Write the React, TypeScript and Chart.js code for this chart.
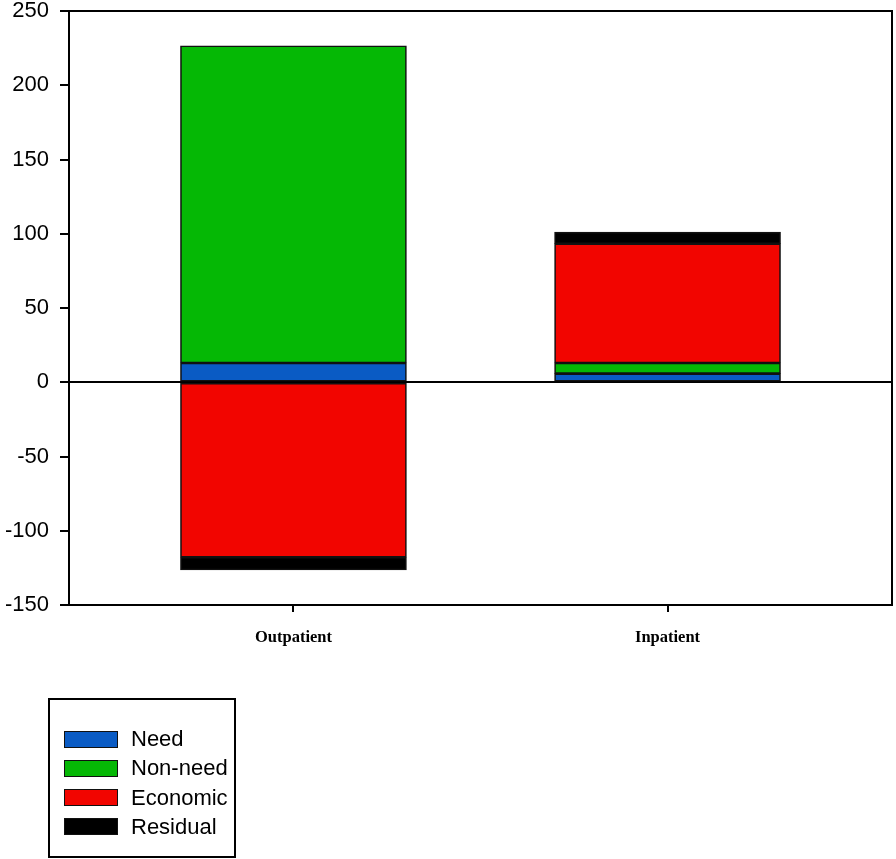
import React, { useEffect, useRef } from "react";
import { Chart, registerables } from "chart.js";

Chart.register(...registerables);

const categories = ["Outpatient", "Inpatient"];
const seriesNames = ["Need", "Non-need", "Economic", "Residual"];
const needValues = [13.0, 5.8];
const nonNeedValues = [213.6, 7.2];
const economicValues = [-117.8, 80.3];
const residualValues = [-8.6, 7.8];
const seriesColors = ["#0a5bc4", "#05b805", "#f20500", "#000000"];
const yMin = -150;
const yMax = 250;
const yStep = 50;

const allValues = [needValues, nonNeedValues, economicValues, residualValues];

const framePlugin = {
  id: "frame",
  afterDraw(chart: any) {
    const { ctx, chartArea } = chart;
    ctx.save();
    ctx.strokeStyle = "#000";
    ctx.lineWidth = 2;
    ctx.beginPath();
    ctx.moveTo(chartArea.left, chartArea.top);
    ctx.lineTo(chartArea.right, chartArea.top);
    ctx.lineTo(chartArea.right, chartArea.bottom);
    ctx.stroke();
    ctx.restore();
  },
};

export default function App() {
  const ref = useRef<HTMLCanvasElement>(null);
  useEffect(() => {
    if (!ref.current) return;
    const chart = new Chart(ref.current, {
      type: "bar",
      data: {
        datasets: seriesNames.map((name, s) => ({
          label: name,
          data: categories.map((_, i) => ({ x: i, y: allValues[s][i] })),
          backgroundColor: seriesColors[s],
          borderColor: "#111",
          borderWidth: 1.6,
          borderSkipped: false,
          barThickness: 226,
        })),
      },
      options: {
        animation: false,
        responsive: true,
        maintainAspectRatio: false,
        layout: { padding: { top: 11, right: 4, left: 0, bottom: 0 } },
        plugins: { legend: { display: false }, tooltip: { enabled: false } },
        scales: {
          x: {
            type: "linear",
            stacked: true,
            offset: false,
            min: -0.6,
            max: 1.6,
            afterBuildTicks: (scale: any) => {
              scale.ticks = categories.map((_, i) => ({ value: i }));
            },
            afterFit: (scale: any) => {
              scale.height = 254;
              scale.paddingLeft = 0;
              scale.paddingRight = 0;
            },
            ticks: {
              callback: (v: any) => categories[v] ?? "",
              color: "#000",
              font: { family: "'Liberation Serif', 'Times New Roman', serif", size: 16.5, weight: "bold" },
              padding: 16,
              maxRotation: 0,
            },
            grid: {
              offset: false,
              drawOnChartArea: false,
              tickLength: 7,
              tickColor: "#000",
              lineWidth: 2,
            },
            border: { color: "#000", width: 2 },
          },
          y: {
            stacked: true,
            min: yMin,
            max: yMax,
            afterFit: (scale: any) => {
              scale.width = 69;
              scale.paddingTop = 0;
              scale.paddingBottom = 0;
            },
            ticks: {
              stepSize: yStep,
              color: "#000",
              font: { family: "'Liberation Sans', Arial, sans-serif", size: 22 },
              padding: 11,
            },
            grid: {
              color: (c: any) => (c.tick && c.tick.value === 0 ? "#000" : "rgba(0,0,0,0)"),
              tickColor: "#000",
              tickLength: 9,
              lineWidth: 2,
            },
            border: { color: "#000", width: 2 },
          },
        },
      },
      plugins: [framePlugin],
    });
    return () => chart.destroy();
  }, []);

  return (
    <div style={{ position: "absolute", left: 0, top: 0, width: 896, height: 859, background: "#fff" }}>
      <canvas ref={ref} />
      <div
        style={{
          position: "absolute",
          left: 48,
          top: 698,
          width: 188,
          height: 160,
          border: "2px solid #000",
          boxSizing: "border-box",
          fontFamily: "'Liberation Sans', Arial, sans-serif",
          fontSize: 22,
          color: "#000",
        }}
      >
        {seriesNames.map((name, s) => (
          <div
            key={name}
            style={{
              position: "absolute",
              left: 14,
              top: 27 + s * 29.3,
              height: 24,
              display: "flex",
              alignItems: "center",
              whiteSpace: "nowrap",
            }}
          >
            <span
              style={{
                display: "inline-block",
                width: 54,
                height: 17,
                background: seriesColors[s],
                border: "1.5px solid #111",
                boxSizing: "border-box",
                marginRight: 13,
              }}
            />
            <span style={{ lineHeight: "24px" }}>{name}</span>
          </div>
        ))}
      </div>
    </div>
  );
}
